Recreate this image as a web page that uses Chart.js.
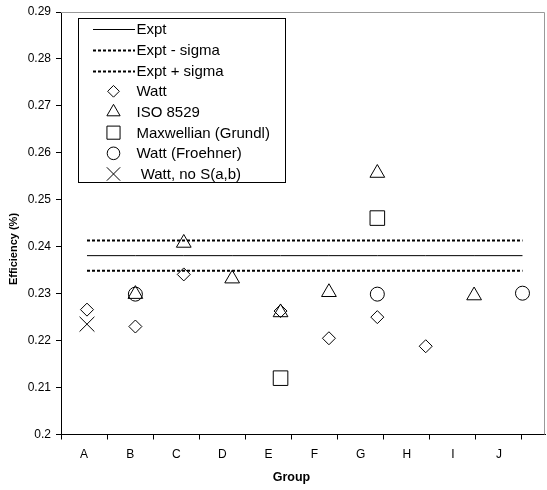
<!DOCTYPE html>
<html><head><meta charset="utf-8">
<script src="https://cdn.jsdelivr.net/npm/chart.js@4.4.0/dist/chart.umd.min.js"></script>
<style>html,body{margin:0;padding:0;background:#fff}#wrap{width:547px;height:490px;position:relative}</style>
</head><body><div id="wrap"><canvas id="c" width="547" height="490"></canvas></div>
<script>
const categories = ['A','B','C','D','E','F','G','H','I','J'];
const yTickValues = [0.2,0.21,0.22,0.23,0.24,0.25,0.26,0.27,0.28,0.29];
const yTickLabels = ['0.2','0.21','0.22','0.23','0.24','0.25','0.26','0.27','0.28','0.29'];
const expt           = [0.2381,0.2381,0.2381,0.2381,0.2381,0.2381,0.2381,0.2381,0.2381,0.2381];
const exptMinusSigma = [0.2349,0.2349,0.2349,0.2349,0.2349,0.2349,0.2349,0.2349,0.2349,0.2349];
const exptPlusSigma  = [0.2413,0.2413,0.2413,0.2413,0.2413,0.2413,0.2413,0.2413,0.2413,0.2413];
const watt       = [0.2266,0.2230,0.2341,null,0.2263,0.2205,0.2250,0.2188,null,null];
const iso8529    = [null,0.2299,0.2408,0.2332,0.2260,0.2303,0.2557,null,0.2296,null];
const maxwellian = [null,null,null,null,0.2120,null,0.2461,null,null,null];
const froehner   = [null,0.2299,null,null,null,null,0.2299,null,null,0.2301];
const wattNoSab  = [0.2235,null,null,null,null,null,null,null,null,null];
const seriesLabels = ['Expt','Expt - sigma','Expt + sigma','Watt','ISO 8529','Maxwellian (Grundl)','Watt (Froehner)',' Watt, no S(a,b)'];

const FONT = "'Liberation Sans', Arial, sans-serif";
Chart.defaults.font.family = FONT;
Chart.defaults.color = '#000';

// series are plotted at group index 1..10
function toXY(arr){ return arr.map((v,i)=>({x:i+1, y:v})); }

function lineDs(label, data, dash, w){
  return {label, data:toXY(data), xAxisID:'x', borderColor:'#000', borderWidth:w, borderDash:dash, pointRadius:0, fill:false, tension:0, showLine:true};
}
function ptDs(label, data, style, r){
  return {label, data:toXY(data), xAxisID:'x', showLine:false, pointStyle:style, pointRadius:r, pointBorderColor:'#000',
    pointBackgroundColor:'rgba(0,0,0,0)', pointBorderWidth:1, borderColor:'#000', backgroundColor:'rgba(0,0,0,0)'};
}
const datasets = [
  lineDs(seriesLabels[0], expt, [], 1),
  lineDs(seriesLabels[1], exptMinusSigma, [3,2], 2),
  lineDs(seriesLabels[2], exptPlusSigma, [3,2], 2),
  ptDs(seriesLabels[3], watt, 'rectRot', 6.5),
  ptDs(seriesLabels[4], iso8529, 'triangle', 8.5),
  ptDs(seriesLabels[5], maxwellian, 'rect', 10.3),
  ptDs(seriesLabels[6], froehner, 'circle', 7),
  ptDs(seriesLabels[7], wattNoSab, 'crossRot', 10.5)
];

function drawMarker(ctx, style, x, y, r){
  ctx.beginPath();
  if (style==='rectRot'){ ctx.moveTo(x, y-r); ctx.lineTo(x+r, y); ctx.lineTo(x, y+r); ctx.lineTo(x-r, y); ctx.closePath(); }
  else if (style==='triangle'){ ctx.moveTo(x, y-r); ctx.lineTo(x+r*0.866, y+r/2); ctx.lineTo(x-r*0.866, y+r/2); ctx.closePath(); }
  else if (style==='rect'){ const s=r*Math.SQRT1_2; ctx.rect(x-s, y-s, 2*s, 2*s); }
  else if (style==='circle'){ ctx.arc(x, y, r, 0, Math.PI*2); }
  else if (style==='crossRot'){ const s=r*Math.SQRT1_2; ctx.moveTo(x-s,y-s); ctx.lineTo(x+s,y+s); ctx.moveTo(x+s,y-s); ctx.lineTo(x-s,y+s); }
  ctx.stroke();
}

const decor = {
  id:'decor',
  beforeDatasetsDraw(chart){
    const ctx = chart.ctx, a = chart.chartArea;
    ctx.save();
    ctx.strokeStyle = '#999'; ctx.lineWidth = 1;
    ctx.beginPath();
    ctx.moveTo(a.left, a.top+0.5); ctx.lineTo(a.right-0.5, a.top+0.5); ctx.lineTo(a.right-0.5, a.bottom);
    ctx.stroke();
    ctx.restore();
  },
  afterDraw(chart){
    const ctx = chart.ctx;
    const xc = chart.scales.xCat;
    ctx.save();
    ctx.fillStyle = '#000'; ctx.textAlign = 'center'; ctx.textBaseline = 'middle';
    // x axis title, centred under the group axis
    ctx.font = "bold 12.5px " + FONT;
    ctx.fillText('Group', (xc.getPixelForValue(0)+xc.getPixelForValue(10))/2, 478);
    // y axis title
    ctx.translate(14, 249); ctx.rotate(-Math.PI/2);
    ctx.font = "bold 11px " + FONT;
    ctx.fillText('Efficiency (%)', 0, 0);
    ctx.restore();
    // legend
    ctx.save();
    const bx = 78.5, by = 18.5, bw = 207, bh = 164;
    ctx.fillStyle = '#fff'; ctx.fillRect(bx, by, bw, bh);
    ctx.strokeStyle = '#000'; ctx.lineWidth = 1; ctx.strokeRect(bx, by, bw, bh);
    ctx.font = "15px " + FONT;
    ctx.textBaseline = 'middle'; ctx.textAlign = 'left'; ctx.fillStyle = '#000';
    const ds = chart.data.datasets;
    for (let i=0;i<ds.length;i++){
      const y = 29.3 + i*20.67;
      const d = ds[i];
      ctx.strokeStyle = '#000';
      if (d.showLine){
        ctx.lineWidth = d.borderWidth; ctx.setLineDash(d.borderDash||[]);
        ctx.beginPath(); ctx.moveTo(93, Math.round(y)+0.5); ctx.lineTo(135, Math.round(y)+0.5); ctx.stroke();
        ctx.setLineDash([]);
      } else {
        ctx.lineWidth = 1;
        drawMarker(ctx, d.pointStyle, 113.5, y, d.pointRadius*0.9);
      }
      ctx.fillText(d.label, 136.5, y+1);
    }
    ctx.restore();
  }
};

const catTickValues = [0,0.5,1,1.5,2,2.5,3,3.5,4,4.5,5,5.5,6,6.5,7,7.5,8,8.5,9,9.5,10];

new Chart(document.getElementById('c'), {
  type:'line',
  data:{datasets},
  plugins:[decor],
  options:{
    responsive:false, animation:false, devicePixelRatio:1, events:[],
    layout:{autoPadding:false, padding:{top:12, right:2, left:0, bottom:0}},
    plugins:{legend:{display:false}, tooltip:{enabled:false}},
    scales:{
      x:{
        type:'linear', display:false, min:0.463, max:10.465
      },
      xCat:{
        type:'linear', position:'bottom', min:0, max:10.5,
        grid:{drawOnChartArea:false, tickLength:5,
          color:(c)=> (c.tick && Number.isInteger(c.tick.value)) ? '#000' : 'rgba(0,0,0,0)'},
        border:{color:'#000', width:1},
        ticks:{padding:8, font:{size:12}, color:'#000', maxRotation:0, autoSkip:false,
          callback:(v)=> Number.isInteger(v) ? '' : categories[Math.floor(v)]},
        afterBuildTicks(s){ s.ticks = catTickValues.map(v=>({value:v})); },
        afterFit(s){ s.height = 55.5; s.paddingLeft = 0; s.paddingRight = 0; }
      },
      y:{
        min:0.2, max:0.29,
        grid:{drawOnChartArea:false, tickLength:5, color:'#000'},
        border:{color:'#000', width:1},
        ticks:{padding:5, font:{size:12}, color:'#000',
          callback:(v,i)=>yTickLabels[i]},
        afterBuildTicks(s){ s.ticks = yTickValues.map(v=>({value:v})); },
        afterFit(s){ s.width = 61; s.paddingTop = 0; s.paddingBottom = 0; }
      }
    }
  }
});
</script>
</body></html>
